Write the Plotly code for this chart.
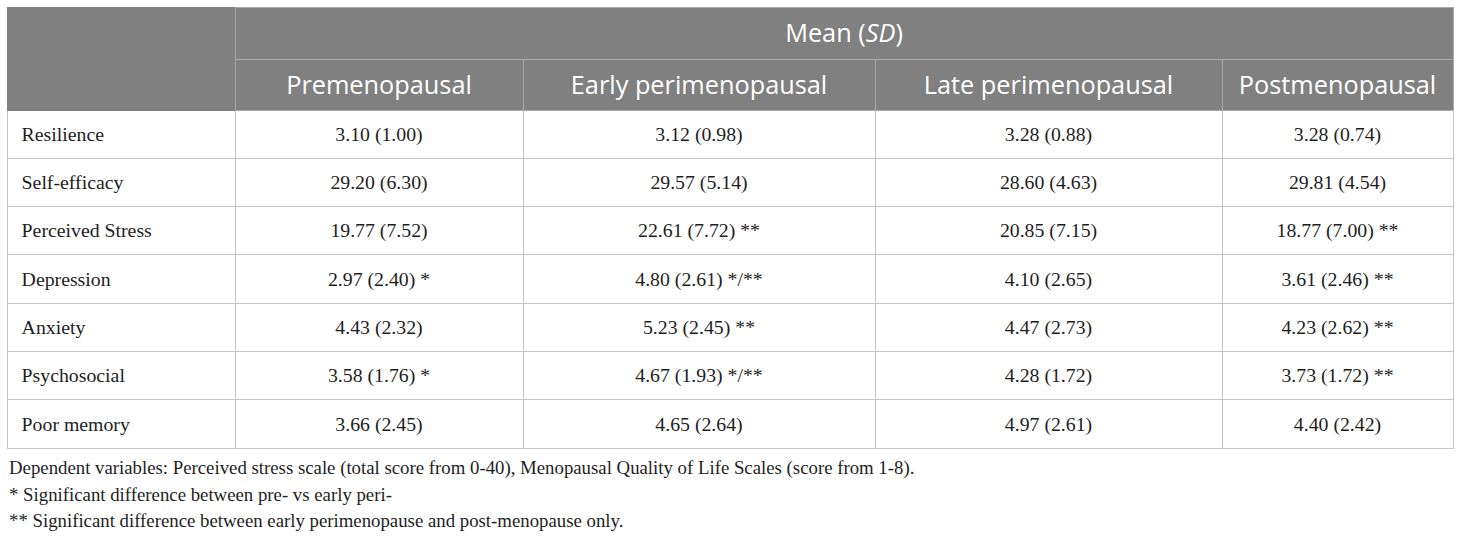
import plotly.graph_objects as go

# table contents
variables = ["Resilience", "Self-efficacy", "Perceived Stress", "Depression",
             "Anxiety", "Psychosocial", "Poor memory"]
stages = ["Premenopausal", "Early perimenopausal", "Late perimenopausal", "Postmenopausal"]
group_title = "Mean (<i>SD</i>)"

pre_mean = [3.10, 29.20, 19.77, 2.97, 4.43, 3.58, 3.66]
pre_sd = [1.00, 6.30, 7.52, 2.40, 2.32, 1.76, 2.45]
pre_sig = ["", "", "", "*", "", "*", ""]

early_mean = [3.12, 29.57, 22.61, 4.80, 5.23, 4.67, 4.65]
early_sd = [0.98, 5.14, 7.72, 2.61, 2.45, 1.93, 2.64]
early_sig = ["", "", "**", "*/**", "**", "*/**", ""]

late_mean = [3.28, 28.60, 20.85, 4.10, 4.47, 4.28, 4.97]
late_sd = [0.88, 4.63, 7.15, 2.65, 2.73, 1.72, 2.61]
late_sig = ["", "", "", "", "", "", ""]

post_mean = [3.28, 29.81, 18.77, 3.61, 4.23, 3.73, 4.40]
post_sd = [0.74, 4.54, 7.00, 2.46, 2.62, 1.72, 2.42]
post_sig = ["", "", "**", "**", "**", "**", ""]

footnotes = [
    "Dependent variables: Perceived stress scale (total score from 0-40), Menopausal Quality of Life Scales (score from 1-8).",
    "* Significant difference between pre- vs early peri-",
    "** Significant difference between early perimenopause and post-menopause only.",
]


def fmt(means, sds, sigs):
    out = []
    for m, s, g in zip(means, sds, sigs):
        txt = "{:.2f} ({:.2f})".format(m, s)
        if g:
            txt += " " + g
        out.append(txt)
    return out


W, H = 1460, 536
left, right, top = 7, 1453, 7
head1_h = 52
head2_h = 51
row_h = 338 / 7
widths = [228, 288, 352, 347, 231]
grey = "#808080"
head_line = "#a9a9a9"
line_c = "#c6c6c6"
clear = "rgba(0,0,0,0)"
sans = "Open Sans"
serif = "Liberation Serif"
head_font = dict(family=sans, size=25.3, color="white")
body_font = dict(family=serif, size=19.8, color="#1e1e1e")
aligns = ["left", "center", "center", "center", "center"]

body_cols = [["\u00a0\u200a" + v for v in variables],
             fmt(pre_mean, pre_sd, pre_sig),
             fmt(early_mean, early_sd, early_sig),
             fmt(late_mean, late_sd, late_sig),
             fmt(post_mean, post_sd, post_sig)]
blank_cols = [[""] * len(variables) for _ in range(5)]

xdom = [left / W, right / W]


def ydom(t):
    return [0, 1 - t / H]


fig = go.Figure()

# --- grid layers (fills and rules) ---
fig.add_trace(go.Table(
    domain=dict(x=xdom, y=ydom(top)),
    columnwidth=[widths[0], sum(widths[1:])],
    header=dict(values=["", ""], fill_color=grey, height=head1_h,
                line=dict(color=[grey, head_line], width=1)),
    cells=dict(values=[[], []]),
))
fig.add_trace(go.Table(
    domain=dict(x=xdom, y=ydom(top + head1_h)),
    columnwidth=widths,
    header=dict(values=[""] * 5, fill_color=grey, height=head2_h,
                line=dict(color=[grey] + [head_line] * 4, width=1)),
    cells=dict(values=blank_cols, fill_color="white", height=row_h,
               line=dict(color=line_c, width=1)),
))

# --- text layers, nudged down so the text sits mid-cell ---
fig.add_trace(go.Table(
    domain=dict(x=xdom, y=ydom(top)),
    columnwidth=[widths[0], sum(widths[1:])],
    header=dict(values=["", group_title], fill_color=clear, height=head1_h,
                line=dict(color=clear, width=0), font=head_font, align="center"),
    cells=dict(values=[[], []]),
))
fig.add_trace(go.Table(
    domain=dict(x=xdom, y=ydom(top + head1_h + 8)),
    columnwidth=widths,
    header=dict(values=[""] + stages, fill_color=clear, height=head2_h,
                line=dict(color=clear, width=0), font=head_font, align="center"),
    cells=dict(values=body_cols, fill_color=clear, height=row_h,
               line=dict(color=clear, width=0), font=body_font, align=aligns),
))

for i, note in enumerate(footnotes):
    fig.add_annotation(text=note, xref="paper", yref="paper",
                       x=left / W, y=1 - (468 + 26 * i) / H,
                       xanchor="left", yanchor="middle", showarrow=False,
                       font=dict(family=serif, size=18.8, color="#1e1e1e"))

fig.update_layout(width=W, height=H, margin=dict(l=0, r=0, t=0, b=0),
                  paper_bgcolor="white", plot_bgcolor="white")

# drop the page's default 8px body margin so the figure fills the window
fig.write_html("out.html", config=dict(displayModeBar=False),
               post_script="document.body.style.margin = '0';")
